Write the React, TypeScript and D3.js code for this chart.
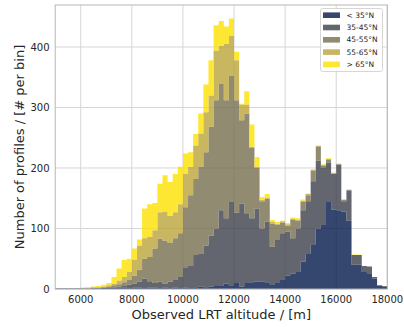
import React from "react";
import * as d3 from "d3";

// Histogram bins: 200 m wide, 5000–18000 m
const BIN_EDGES: number[] = d3.range(5000, 18001, 200);

// Counts per bin for each latitude band (stacked bottom → top)
const lt35 = [1,1,1,1,1,1,1,1,1,2, 2,2,2,2,3,2,2,3,2,2, 3,2,3,2,3,2,3,3,4,3, 4,5,5,9,5,11,4,10,11,12, 12,11,8,11,15,22,25,28,45,58, 74,100,107,144,131,130,128,113,40,40, 28,26,17,5,4];
const b35_45 = [0,0,0,0,0,0,0,1,1,0, 1,1,2,3,4,7,10,14,11,8, 9,7,9,13,17,34,35,53,54,69, 84,95,125,108,139,115,137,115,106,121, 88,100,62,70,77,73,59,72,85,87, 104,112,93,65,59,75,17,50,16,16, 10,11,3,1,1];
const b45_55 = [0,0,0,0,0,0,0,0,0,1, 1,3,4,6,8,13,20,33,40,57, 71,71,64,69,72,99,117,126,144,154, 180,212,209,195,209,186,138,165,116,67, 45,38,38,25,18,10,30,13,14,10, 18,24,4,5,1,1,2,1,0,0, 0,0,0,0,0];
const b55_65 = [0,0,0,0,0,1,1,1,1,1, 2,3,6,9,13,26,40,34,33,30, 44,48,45,43,48,55,47,55,55,66, 52,82,63,93,66,66,26,15,2,2, 2,2,3,2,2,2,2,2,2,2, 1,0,1,1,1,1,1,0,0,0, 0,0,0,0,0];
const gt65 = [0,0,0,0,0,0,1,1,2,3, 4,11,20,28,22,19,10,49,54,45, 47,60,56,63,62,34,24,19,33,46, 58,42,41,29,28,14,1,22,37,16, 5,6,3,3,1,2,2,2,2,1, 1,1,1,1,0,0,0,0,1,1, 0,0,0,0,0];

const SERIES = ["< 35°N", "35-45°N", "45-55°N", "55-65°N", "> 65°N"];
const SERIES_DATA = [lt35, b35_45, b45_55, b55_65, gt65];
const COLORS = ["#03184b", "#3c404b", "#766e4f", "#baa438", "#fde100"];

const X_TICKS = [6000, 8000, 10000, 12000, 14000, 16000, 18000];
const Y_TICKS = [0, 100, 200, 300, 400];

const W = 404, H = 327;
const L = 55.2, R = 387.3, T = 5, B = 289;

export default function App() {
  const x = d3.scaleLinear().domain([5000, 18000]).range([L, R]);
  const y = d3.scaleLinear().domain([0, 469.4]).range([B, T]);

  const rows = BIN_EDGES.slice(0, -1).map((e, i) => {
    const r: any = { x0: e };
    SERIES.forEach((s, j) => (r[s] = SERIES_DATA[j][i]));
    return r;
  });
  const stacked = d3.stack().keys(SERIES)(rows as any);

  const area = d3
    .area<any>()
    .x((d: any) => x(d.x))
    .y0((d: any) => y(d.y0))
    .y1((d: any) => y(d.y1))
    .curve(d3.curveStepAfter);

  const paths = stacked.map((layer: any) => {
    const pts = layer.map((d: any, i: number) => ({ x: BIN_EDGES[i], y0: d[0], y1: d[1] }));
    const last = layer[layer.length - 1];
    pts.push({ x: BIN_EDGES[BIN_EDGES.length - 1], y0: last[0], y1: last[1] });
    return area(pts) as string;
  });

  const font = "DejaVu Sans, sans-serif";

  return (
    <svg width={W} height={H} style={{ position: "absolute", left: 0, top: 0, background: "#fff" }}>
      {/* grid */}
      {X_TICKS.map((t) => (
        <line key={"gx" + t} x1={x(t)} x2={x(t)} y1={T} y2={B} stroke="#d6d6d6" strokeWidth={1} />
      ))}
      {Y_TICKS.map((t) => (
        <line key={"gy" + t} x1={L} x2={R} y1={y(t)} y2={y(t)} stroke="#d6d6d6" strokeWidth={1} />
      ))}
      {/* stacked histogram */}
      {paths.map((d, i) => (
        <path key={"p" + i} d={d} fill={COLORS[i]} fillOpacity={0.8} />
      ))}
      {/* frame */}
      <rect x={L} y={T} width={R - L} height={B - T} fill="none" stroke="#b5b5b5" strokeWidth={1} />
      {/* x tick labels */}
      {X_TICKS.map((t) => (
        <text key={"xt" + t} x={x(t)} y={302.5} fontSize={10} fontFamily={font} fill="#262626" textAnchor="middle">
          {t}
        </text>
      ))}
      {/* y tick labels */}
      {Y_TICKS.map((t) => (
        <text key={"yt" + t} x={49.5} y={y(t)} dy="0.36em" fontSize={10} fontFamily={font} fill="#262626" textAnchor="end">
          {t}
        </text>
      ))}
      {/* axis labels */}
      <text x={(L + R) / 2} y={319} fontSize={13} fontFamily={font} fill="#262626" textAnchor="middle">
        Observed LRT altitude / [m]
      </text>
      <text
        transform={`translate(24,${(T + B) / 2}) rotate(-90)`}
        fontSize={13}
        fontFamily={font}
        fill="#262626"
        textAnchor="middle"
      >
        Number of profiles / [# per bin]
      </text>
      {/* legend */}
      <g>
        <rect x={320.5} y={8.5} width={62} height={63} rx={2} fill="#fff" fillOpacity={0.8} stroke="#cccccc" strokeWidth={0.8} />
        {SERIES.map((s, i) => {
          const cy = 15 + i * 12.3;
          return (
            <g key={"lg" + i}>
              <rect x={323} y={cy - 2.6} width={17} height={5.6} fill={COLORS[i]} fillOpacity={0.8} />
              <text x={346.5} y={cy} dy="0.36em" fontSize={7.5} fontFamily={font} fill="#262626">
                {s}
              </text>
            </g>
          );
        })}
      </g>
    </svg>
  );
}
